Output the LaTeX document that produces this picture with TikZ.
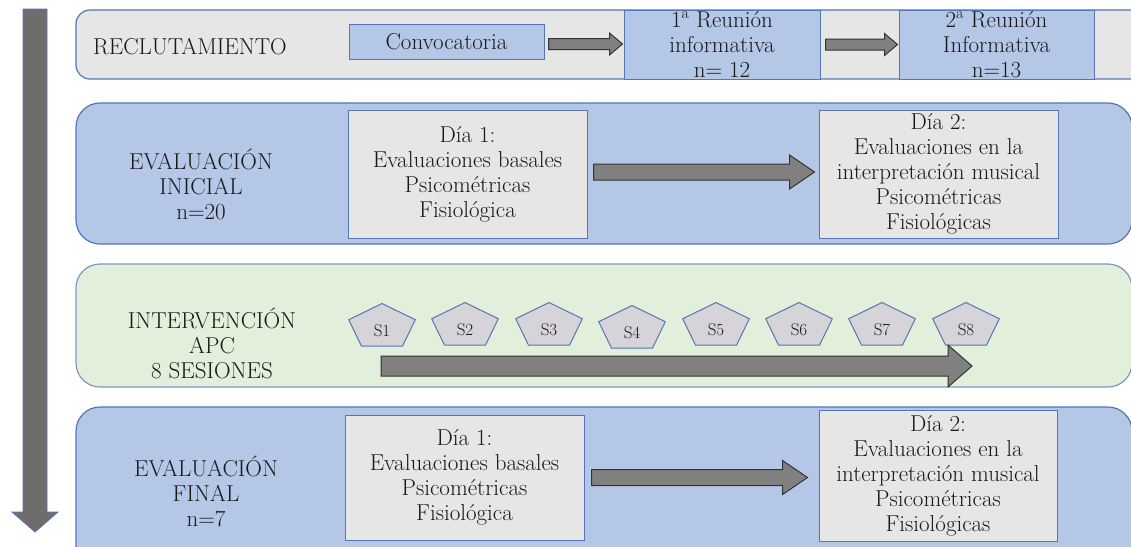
\documentclass[tikz,border=0pt]{standalone}
\usepackage{tikz}
\usetikzlibrary{calc}
\definecolor{rowblue}{RGB}{180,199,231}
\definecolor{lineblue}{RGB}{84,118,182}
\definecolor{boxgray}{RGB}{231,230,230}
\definecolor{rowgreen}{RGB}{226,239,218}
\definecolor{greenline}{RGB}{125,152,192}
\definecolor{arrowgray}{RGB}{128,128,128}
\definecolor{timegray}{RGB}{113,108,108}
\definecolor{pentgray}{RGB}{214,212,216}

% block arrow: from, to, half shaft, half head, head length
\newcommand{\blockarrow}[5]{%
  \draw[blockarr] let \p1=(#1), \p2=(#2) in
    (\x1,\y1-#3) -- (\x2-#5,\y1-#3) -- (\x2-#5,\y1-#4) -- (\x2,\y1)
    -- (\x2-#5,\y1+#4) -- (\x2-#5,\y1+#3) -- (\x1,\y1+#3) -- cycle;}

\begin{document}
\begin{tikzpicture}[x=1pt,y=-1pt,
    font=\fontsize{23}{25}\selectfont,
    rowbox/.style={draw=lineblue,line width=1.2pt,rounded corners=24pt},
    stepbox/.style={draw=lineblue,line width=1pt,fill=boxgray,align=center,inner sep=0pt},
    bluebox/.style={stepbox,fill=rowblue},
    rowlabel/.style={align=center,text=black!90},
    blockarr/.style={draw=black!80,line width=1pt,fill=arrowgray},
    penta/.style={draw=lineblue,line width=1pt,fill=pentgray},
    sesion/.style={font=\fontsize{17}{18}\selectfont,text=black!90}]
    \useasboundingbox (0,0) rectangle (1131,546);
    \clip (0,0) rectangle (1131,546);

    % Time line
    \draw[lineblue,fill=timegray,line width=0.8pt] (23,9) -- (47,9) -- (47,512) -- (58,512)
        -- (35,532) -- (12,512) -- (23,512) -- cycle;

    % Rows
    \draw[rowbox,rounded corners=14pt,fill=boxgray] (76,10) rectangle (1160,79);
    \draw[rowbox,fill=rowblue] (76,103) rectangle (1132,244);
    \draw[rowbox,draw=greenline,fill=rowgreen] (76,264) rectangle (1132,387);
    \draw[rowbox,fill=rowblue] (76,407) rectangle (1132,580);

    % Row labels
    \node[rowlabel] (recl) at (190,47) {RECLUTAMIENTO};
    \node[rowlabel] (evini) at (201,184) {EVALUACIÓN\\INICIAL\\n=20};
    \node[rowlabel] (interv) at (212,343) {INTERVENCIÓN\\APC\\8 SESIONES};
    \node[rowlabel] (evfin) at (206,491) {EVALUACIÓN\\FINAL\\n=7};

    % Reclutamiento
    \node[bluebox,minimum width=195,minimum height=35,text=black!90] (conv) at (446.5,41.5) {Convocatoria};
    \node[bluebox,minimum width=196,minimum height=69,text=black!90] (r1) at (722,44.5)
        {1\textsuperscript{a} Reunión\\informativa\\n= 12};
    \node[bluebox,minimum width=195,minimum height=69,text=black!90] (r2) at (996.5,44.5)
        {2\textsuperscript{a} Reunión\\Informativa\\n=13};
    \blockarrow{$(conv.east)+(4,2.5)$}{$(r1.west)+(-1,0)$}{5.5pt}{11pt}{13pt}
    \blockarrow{$(r1.east)+(5,0)$}{$(r2.west)+(-1,0)$}{5.5pt}{11pt}{13pt}

    % Evaluacion inicial
    \node[stepbox,minimum width=239,minimum height=128,text=black!90] (d1a) at (467.5,174)
        {Día 1:\\Evaluaciones basales\\Psicométricas\\Fisiológica};
    \node[stepbox,minimum width=239,minimum height=128,text=black!90] (d2a) at (938.5,174)
        {Día 2:\\Evaluaciones en la\\interpretación musical\\Psicométricas\\Fisiológicas};
    \blockarrow{$(d1a.east)+(6,-2)$}{$(d2a.west)+(-4,0)$}{8pt}{17pt}{25pt}

    % Sesiones
    \foreach \i/\px/\py in {1/382/327,2/465/326,3/549/326,4/632/329,5/716/326,6/799/326,7/882/326,8/966/326}{
        \draw[penta] ([shift={(\px,\py)}]-90:35 and 23.5) -- ([shift={(\px,\py)}]-18:35 and 23.5)
            -- ([shift={(\px,\py)}]54:35 and 23.5) -- ([shift={(\px,\py)}]126:35 and 23.5)
            -- ([shift={(\px,\py)}]198:35 and 23.5) -- cycle;
        \node[sesion] (s\i) at (\px,\py+4) {S\i};
    }
    \blockarrow{$(s1)+(-1,35)$}{$(s8)+(6,35)$}{10pt}{21pt}{24pt}

    % Evaluacion final
    \node[stepbox,minimum width=239,minimum height=125,text=black!90] (d1b) at (464.5,477.5)
        {Día 1:\\Evaluaciones basales\\Psicométricas\\Fisiológica};
    \node[stepbox,minimum width=238,minimum height=131,text=black!90] (d2b) at (938,475.5)
        {Día 2:\\Evaluaciones en la\\interpretación musical\\Psicométricas\\Fisiológicas};
    \blockarrow{$(d1b.east)+(7,0)$}{$(d2b.west)+(-11,0)$}{8pt}{17pt}{25pt}
\end{tikzpicture}
\end{document}
